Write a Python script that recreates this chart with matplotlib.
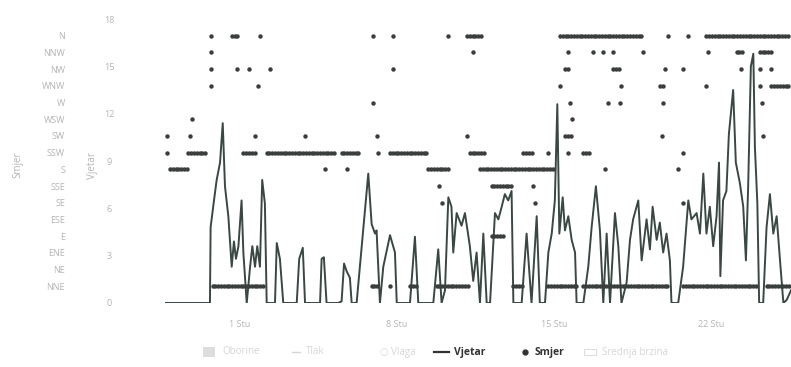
import numpy as np
import pandas as pd
import matplotlib
matplotlib.use("Agg")
import matplotlib.pyplot as plt
from matplotlib.lines import Line2D
from matplotlib.patches import Rectangle

plt.rcParams['font.family'] = ['Open Sans', 'DejaVu Sans']

START = pd.Timestamp("2023-10-28")

# Wind speed readings: day offset from START and speed
wind_t = [0.66, 2.66, 2.69, 2.84, 2.96, 3.11, 3.23, 3.33, 3.48, 3.63, 3.73, 3.82, 3.93,
          4.07, 4.15, 4.30, 4.45, 4.55, 4.67, 4.77, 4.89, 4.99, 5.11, 5.19, 5.56, 5.64,
          5.78, 5.93, 6.53, 6.64, 6.80, 6.90, 7.57, 7.64, 7.74, 7.86, 8.38, 8.53, 8.64,
          8.76, 8.90, 8.98, 9.20, 9.72, 9.87, 10.02, 10.09, 10.24, 10.39, 10.69, 10.91,
          10.99, 11.58, 11.80, 11.95, 12.62, 12.84, 12.99, 13.14, 13.29, 13.43, 13.51,
          13.66, 13.88, 14.03, 14.25, 14.40, 14.55, 14.70, 14.85, 15.00, 15.15, 15.37,
          15.52, 15.67, 15.81, 15.96, 16.11, 16.19, 16.56, 16.78, 17.00, 17.23, 17.37,
          17.60, 17.75, 17.90, 18.04, 18.15, 18.24, 18.39, 18.49, 18.64, 18.79, 18.94,
          19.01, 19.31, 19.53, 19.68, 19.87, 20.05, 20.20, 20.35, 20.50, 20.72, 20.87,
          21.01, 21.24, 21.39, 21.53, 21.76, 21.91, 22.13, 22.28, 22.40, 22.58, 22.72,
          22.87, 23.02, 23.17, 23.24, 23.54, 23.76, 23.99, 24.13, 24.36, 24.51, 24.66,
          24.80, 24.95, 25.10, 25.25, 25.36, 25.42, 25.54, 25.69, 25.80, 25.99, 26.11,
          26.29, 26.44, 26.56, 26.66, 26.78, 26.89, 26.96, 27.07, 27.15, 27.33, 27.48,
          27.63, 27.78, 27.93, 28.08, 28.23, 28.38, 28.57]
wind_v = [0.0, 0.0, 4.8, 6.5, 7.8, 8.9, 11.4, 7.4, 5.5, 2.3, 3.9, 2.8, 3.6,
          6.5, 3.2, 0.0, 2.3, 3.6, 2.3, 3.6, 2.3, 7.8, 6.3, 0.0, 0.0, 3.8,
          2.8, 0.0, 0.0, 2.8, 3.5, 0.0, 0.0, 2.8, 2.9, 0.0, 0.0, 0.1, 2.5,
          2.0, 1.6, 0.0, 0.0, 8.2, 5.0, 4.4, 4.6, 0.0, 2.3, 4.3, 3.2,
          0.0, 0.0, 4.2, 0.0, 0.0, 3.4, 0.0, 0.8, 6.7, 6.1, 3.2,
          5.7, 4.9, 5.7, 3.6, 1.4, 3.2, 0.0, 4.4, 0.0, 0.0, 5.7,
          5.3, 6.1, 6.9, 6.5, 7.1, 0.0, 0.0, 4.4, 0.0, 5.5, 0.0,
          0.0, 3.2, 4.4, 6.5, 12.6, 4.4, 6.7, 4.6, 5.5, 4.0, 3.2,
          0.0, 0.0, 2.3, 4.8, 7.4, 4.6, 0.0, 4.4, 0.0, 5.7, 3.6,
          0.0, 1.3, 4.0, 5.3, 6.5, 2.7, 5.3, 3.4, 6.1, 4.0, 5.1,
          3.2, 4.4, 2.7, 0.0, 0.0, 2.3, 6.5, 5.3, 5.7, 4.4, 8.2,
          4.4, 6.1, 3.6, 5.5, 8.9, 1.7, 6.5, 7.1, 10.7, 13.5, 8.9,
          7.6, 6.1, 2.7, 7.4, 15.0, 15.8, 9.9, 6.3, 0.0, 0.0, 4.8,
          6.9, 4.4, 5.5, 2.7, 0.0, 0.2, 0.8]

# Compass points, bottom to top of the direction axis
compass = ["NNE", "NE", "ENE", "E", "ESE", "SE", "SSE", "S",
           "SSW", "SW", "WSW", "W", "WNW", "NW", "NNW", "N"]

# Direction readings as spells of constant direction (first day, last day, point)
dir_spells = [
    (0.73, 0.73, "SW"), (0.73, 0.73, "SSW"), (0.88, 1.70, "S"), (1.77, 1.85, "SW"),
    (1.85, 1.85, "WSW"), (1.70, 2.52, "SSW"),
    (2.71, 2.71, "N"), (2.71, 2.71, "NNW"), (2.71, 2.71, "NW"), (2.71, 2.71, "WNW"),
    (3.63, 4.00, "N"), (3.88, 3.88, "NW"), (4.42, 4.42, "NW"), (4.89, 4.89, "N"),
    (4.82, 4.82, "WNW"), (5.34, 5.34, "NW"),
    (4.15, 4.67, "SSW"), (4.67, 4.67, "SW"),
    (5.19, 8.31, "SSW"), (8.53, 9.35, "SSW"), (6.90, 6.90, "SW"), (7.79, 7.79, "S"),
    (8.76, 8.76, "S"),
    (9.94, 9.94, "N"), (10.81, 10.81, "N"), (10.81, 10.81, "NW"), (9.94, 9.94, "W"),
    (10.12, 10.12, "SW"), (10.17, 10.17, "SSW"), (10.69, 12.40, "SSW"),
    (12.40, 13.29, "S"), (12.89, 12.89, "SSE"), (12.99, 12.99, "SE"),
    (13.29, 13.29, "N"), (14.11, 14.11, "N"), (14.11, 14.11, "SW"),
    (2.78, 5.11, "NNE"), (9.87, 10.24, "NNE"), (10.69, 10.69, "NNE"),
    (11.58, 11.87, "NNE"), (12.77, 14.25, "NNE"),
    (14.25, 14.77, "N"), (14.40, 14.40, "NNW"), (14.25, 14.92, "SSW"), (14.70, 17.97, "S"),
    (15.22, 16.19, "SSE"), (17.08, 17.08, "SSE"), (17.15, 17.15, "SE"),
    (16.63, 17.08, "SSW"), (17.75, 17.75, "SSW"), (15.22, 15.74, "E"),
    (18.27, 21.98, "N"), (18.64, 18.64, "NNW"), (19.75, 19.75, "NNW"),
    (20.20, 20.20, "NNW"), (20.64, 20.64, "NNW"), (21.98, 21.98, "NNW"),
    (18.49, 18.64, "NW"), (20.64, 20.94, "NW"), (18.27, 18.27, "WNW"),
    (21.01, 21.01, "WNW"), (18.71, 18.71, "W"), (20.42, 20.42, "W"), (20.94, 20.94, "W"),
    (18.79, 18.79, "WSW"), (18.49, 18.79, "SW"), (18.64, 18.64, "SSW"),
    (19.31, 19.68, "SSW"), (20.27, 20.27, "S"),
    (23.10, 23.10, "N"), (23.99, 23.99, "N"), (24.80, 28.52, "N"),
    (22.95, 22.95, "NW"), (23.76, 23.76, "NW"), (22.72, 22.95, "WNW"), (22.87, 22.87, "W"),
    (22.80, 22.80, "SW"), (23.76, 23.76, "SSW"), (23.54, 23.54, "S"), (23.76, 23.76, "SE"),
    (24.88, 24.88, "NNW"), (26.14, 26.44, "NNW"), (27.18, 27.78, "NNW"),
    (26.36, 26.36, "NW"), (27.18, 27.18, "NW"), (27.70, 27.78, "NW"),
    (24.80, 24.80, "WNW"), (27.18, 27.18, "WNW"), (27.70, 28.52, "WNW"),
    (27.26, 27.26, "W"), (27.33, 27.33, "SW"),
    (16.19, 16.63, "NNE"), (17.75, 19.01, "NNE"), (19.31, 23.17, "NNE"),
    (23.76, 27.04, "NNE"), (27.48, 28.52, "NNE"),
]
OBS_STEP = 0.125  # direction logged every 3 hours

speed_ticks = [0, 3, 6, 9, 12, 15, 18]
date_ticks = ["2023-11-01", "2023-11-08", "2023-11-15", "2023-11-22"]
date_labels = ["1 Stu", "8 Stu", "15 Stu", "22 Stu"]

legend_faded = ["Oborine", "Tlak", "Vlaga", "Srednja brzina"]

LINE = "#3a4843"
FAINT = "#b4b4b4"

fig = plt.figure(figsize=(7.91, 3.67), dpi=100)
ax = fig.add_axes([0.2086, 0.1744, 0.7914, 0.7738])
ax2 = ax.twinx()

times = START + pd.to_timedelta(wind_t, unit="D")
ax.plot(times, wind_v, color=LINE, lw=1.4, zorder=3)

dt, dl = [], []
for a, b, p in dir_spells:
    for d in np.arange(a, b + 1e-6, OBS_STEP):
        dt.append(d)
        dl.append(compass.index(p) + 1)
ax2.plot(START + pd.to_timedelta(dt, unit="D"), dl, ls="none", marker="o",
         ms=3.2, color="#3a3f3d", mec="none", zorder=4)

ax.set_ylim(0, 18)
ax2.set_ylim(0, 17)
ax.set_xlim(START + pd.Timedelta(days=0.656), START + pd.Timedelta(days=28.57))

ax.set_yticks(speed_ticks)
ax.set_yticklabels([str(v) for v in speed_ticks], fontsize=6.5, color=FAINT)
ax.tick_params(axis="y", length=0, pad=40)
for lab in ax.get_yticklabels():
    lab.set_horizontalalignment("center")

ax2.yaxis.tick_left()
ax2.set_yticks(range(1, 17))
ax2.set_yticklabels(compass, fontsize=6.5, color=FAINT)
ax2.tick_params(axis="y", length=0, pad=72)

ax.set_xticks(pd.to_datetime(date_ticks))
ax.set_xticklabels(date_labels, fontsize=6.5, color=FAINT)
ax.tick_params(axis="x", length=0, pad=12)

for a in (ax, ax2):
    for s in a.spines.values():
        s.set_visible(False)
ax.set_facecolor("none")

fig.text(0.023, 0.55, "Smjer", rotation=90, fontsize=7, color=FAINT, ha="center", va="center")
fig.text(0.117, 0.55, "Vjetar", rotation=90, fontsize=7, color=FAINT, ha="center", va="center")

# legend row
ly = 1 - 352 / 367
W, H = 791, 367
fig.patches.append(Rectangle((203 / W, ly - 5 / H), 12 / W, 10 / H, transform=fig.transFigure,
                             facecolor="#dddddd", edgecolor="none"))
fig.text(222 / W, ly, legend_faded[0], fontsize=7, color="#d6d6d6", va="center")
fig.lines.append(Line2D([292 / W, 300 / W], [ly, ly], transform=fig.transFigure,
                        color="#d6d6d6", lw=1))
fig.text(306 / W, ly, legend_faded[1], fontsize=7, color="#d6d6d6", va="center")
fig.text(380 / W, ly, "\u25cb " + legend_faded[2], fontsize=7, color="#d6d6d6", va="center")
fig.lines.append(Line2D([434 / W, 449 / W], [ly, ly], transform=fig.transFigure,
                        color="#333333", lw=1.6))
fig.text(454 / W, ly, "Vjetar", fontsize=7.5, color="#333333", va="center", weight="bold")
fig.lines.append(Line2D([525 / W], [ly], transform=fig.transFigure, marker="o", ms=3.5,
                        color="#333333", ls="none"))
fig.text(535 / W, ly, "Smjer", fontsize=7.5, color="#333333", va="center", weight="bold")
fig.patches.append(Rectangle((584 / W, ly - 3 / H), 12 / W, 6 / H, transform=fig.transFigure,
                             facecolor="none", edgecolor="#dddddd", lw=0.8))
fig.text(602 / W, ly, legend_faded[3], fontsize=7, color="#d6d6d6", va="center")

fig.savefig("out.png", dpi=100)
